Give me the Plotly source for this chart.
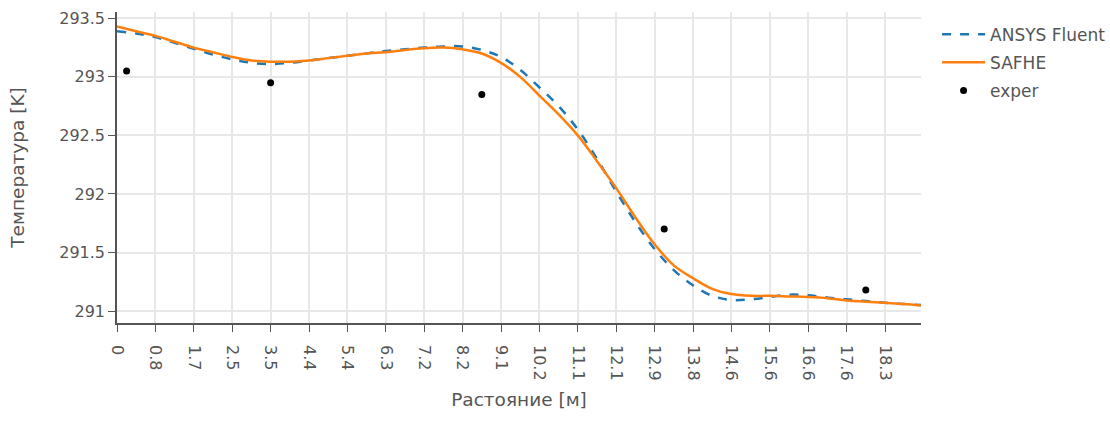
import plotly.graph_objects as go

# x categories (distance, m); every 4th one is labelled on the axis
categories = [
    "0", "0.2", "0.4", "0.6",
    "0.8", "1.0", "1.3", "1.5",
    "1.7", "1.9", "2.1", "2.3",
    "2.5", "2.8", "3.0", "3.3",
    "3.5", "3.7", "3.9", "4.2",
    "4.4", "4.7", "4.9", "5.2",
    "5.4", "5.6", "5.8", "6.1",
    "6.3", "6.5", "6.7", "7.0",
    "7.2", "7.5", "7.7", "8.0",
    "8.2", "8.4", "8.6", "8.9",
    "9.1", "9.4", "9.7", "9.9",
    "10.2", "10.4", "10.6", "10.9",
    "11.1", "11.4", "11.6", "11.9",
    "12.1", "12.3", "12.5", "12.7",
    "12.9", "13.1", "13.4", "13.6",
    "13.8", "14.0", "14.2", "14.4",
    "14.6", "14.9", "15.1", "15.4",
    "15.6", "15.9", "16.1", "16.4",
    "16.6", "16.9", "17.1", "17.4",
    "17.6", "17.8", "17.9", "18.1",
    "18.3", "18.5", "18.7", "18.9",
    "19.1",
]

# distances at which the simulated curves are sampled
line_x = [
    "0", "0.4", "0.8", "1.3", "1.7", "2.1", "2.5", "3.0", "3.5", "3.9",
    "4.4", "4.9", "5.4", "5.8", "6.3", "6.7", "7.2", "7.7", "8.2", "8.6",
    "9.1", "9.7", "10.2", "10.6", "11.1", "11.6", "12.1", "12.5", "12.9", "13.4",
    "13.8", "14.2", "14.6", "15.1", "15.6", "16.1", "16.6", "17.1", "17.6", "17.9",
    "18.3", "18.7", "19.1",
]

ansys_fluent = [
    293.39, 293.37, 293.34, 293.29, 293.24, 293.19, 293.15, 293.12, 293.11, 293.12,
    293.14, 293.16, 293.18, 293.20, 293.22, 293.235, 293.25, 293.26, 293.26, 293.23,
    293.17, 293.06, 292.91, 292.75, 292.55, 292.30, 292.02, 291.76, 291.53, 291.35,
    291.22, 291.13, 291.095, 291.10, 291.12, 291.14, 291.135, 291.115, 291.10, 291.085,
    291.07, 291.06, 291.05,
]

safhe = [
    293.43, 293.39, 293.35, 293.30, 293.25, 293.21, 293.17, 293.14, 293.13, 293.13,
    293.14, 293.16, 293.18, 293.20, 293.21, 293.23, 293.245, 293.25, 293.235, 293.20,
    293.12, 293.00, 292.84, 292.68, 292.50, 292.28, 292.05, 291.80, 291.57, 291.39,
    291.28, 291.19, 291.145, 291.13, 291.13, 291.125, 291.12, 291.11, 291.09, 291.08,
    291.07, 291.06, 291.045,
]

exper_x = ["0.2", "3.5", "8.6", "13.1", "17.9"]
exper_y = [293.05, 292.95, 292.85, 291.70, 291.18]

y_ticks = [291, 291.5, 292, 292.5, 293, 293.5]

FONT = "DejaVu Sans, Verdana, sans-serif"

fig = go.Figure()
fig.add_trace(go.Scatter(
    x=line_x, y=ansys_fluent, name="ANSYS Fluent", mode="lines", legendgroup="a",
    line=dict(color="#1f77b4", width=2.5, dash="dash", shape="spline"),
))
fig.add_trace(go.Scatter(
    x=line_x, y=safhe, name="SAFHE", mode="lines", legendgroup="b",
    line=dict(color="#ff7f0e", width=2.5, shape="spline"),
))
fig.add_trace(go.Scatter(
    x=exper_x, y=exper_y, name="exper", mode="markers", legendgroup="c",
    marker=dict(color="black", size=7),
))

fig.update_layout(
    template="none",
    width=1110, height=421,
    margin=dict(l=117, r=189, t=12, b=98, autoexpand=False),
    paper_bgcolor="white", plot_bgcolor="white",
    font=dict(family=FONT, size=16, color="#555"),
    legend=dict(font=dict(size=17), x=1.02, y=0.985, xanchor="left", yanchor="top",
                itemwidth=43, tracegroupgap=3, traceorder="grouped"),
    xaxis=dict(
        type="category", categoryorder="array", categoryarray=categories,
        range=[0, 83.75],
        tickmode="linear", tick0=0, dtick=4, tickangle=90,
        showline=True, linecolor="#555", linewidth=1.5,
        ticks="outside", ticklen=7, tickcolor="#555", ticklabelstandoff=10,
        showgrid=True, gridcolor="#e8e8e8", gridwidth=1.5, zeroline=False,
        title=dict(text="Растояние [м]", font=dict(size=18.5), standoff=13),
    ),
    yaxis=dict(
        range=[290.898, 293.554],
        tickvals=y_ticks, ticktext=[f"{v:g}" for v in y_ticks],
        showline=True, linecolor="#555", linewidth=1.5,
        ticks="outside", ticklen=7, tickcolor="#555",
        showgrid=True, gridcolor="#e8e8e8", gridwidth=1.5, zeroline=False,
        title=dict(text="Температура [K]", font=dict(size=18.5), standoff=30),
    ),
)

fig.write_html("out.html")
